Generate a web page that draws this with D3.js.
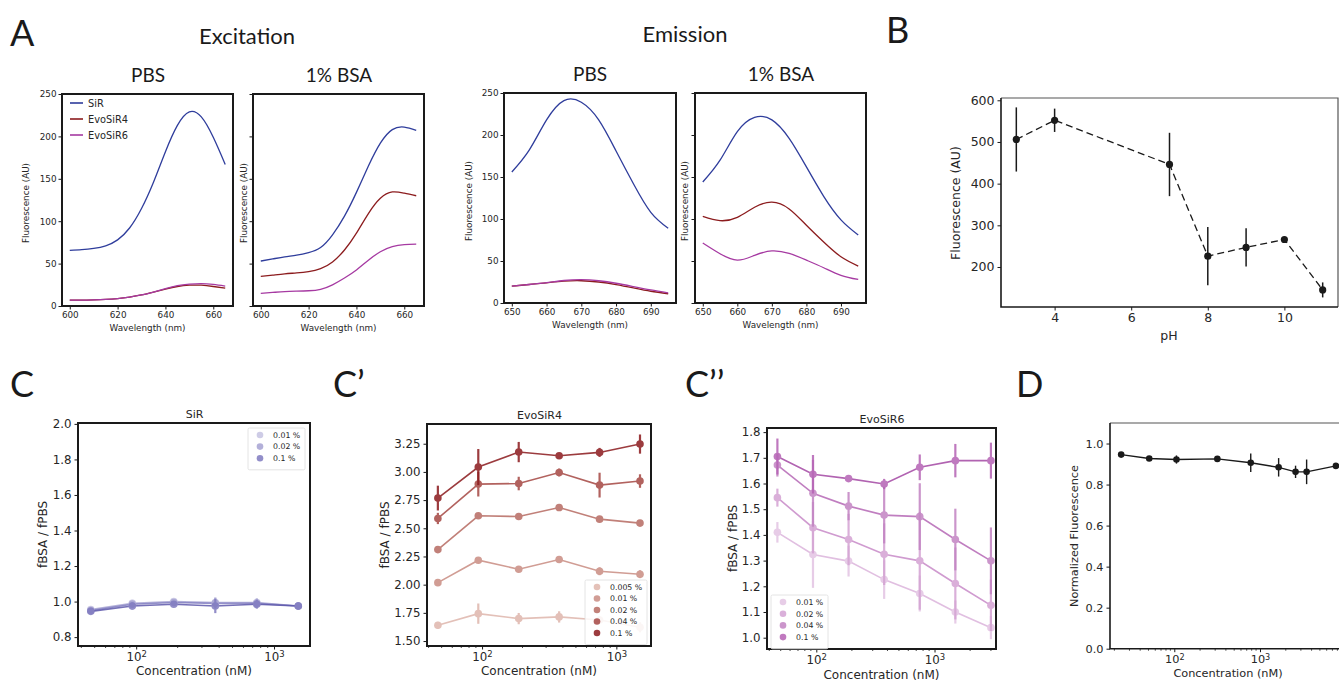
<!DOCTYPE html>
<html>
<head>
<meta charset="utf-8">
<script src="https://cdn.jsdelivr.net/npm/d3@7"></script>
<style>
  body { margin: 0; background: #fff; }
  svg { display: block; }
</style>
</head>
<body>
<svg id="fig" width="1339" height="681"></svg>
<script>
// ---- data ----
const dyeNames = ["SiR", "EvoSiR4", "EvoSiR6"];
const dyeColors = ["#2f3d9c", "#8c1c1e", "#a63aa2"];

// excitation spectra (nm / AU)
const excWl = [600, 605, 610, 615, 620, 625, 630, 635, 640, 645, 650, 655, 660, 665];
const excPbsSiR = [65.7, 66.5, 68, 71, 78, 92, 115, 146, 182, 213, 229, 223, 199, 167];
const excPbsEvo4 = [7, 7, 7.3, 7.8, 8.8, 10.5, 13, 16.5, 20, 23, 24.5, 24.5, 23, 21];
const excPbsEvo6 = [7, 7, 7.3, 7.8, 8.8, 10.5, 13, 16.5, 20.5, 24, 25.8, 26.5, 25.5, 23.5];
const excBsaSiR = [53, 55.5, 58, 60, 63, 69, 84, 106, 134, 165, 192, 208, 211, 207];
const excBsaEvo4 = [35, 36.5, 38, 39, 40.5, 44, 52, 66, 86, 109, 127, 134.5, 133, 130];
const excBsaEvo6 = [15, 16, 17, 17.5, 18, 19.7, 25, 33, 42.5, 54, 64, 70, 72.4, 73];

// emission spectra
const emWl = [650, 655, 660, 665, 670, 675, 680, 685, 690, 695];
const emPbsSiR = [156, 182, 218, 241, 239, 218, 181, 142, 108, 89];
const emPbsEvo4 = [20, 22, 24, 26, 26.5, 25, 22, 18, 14, 11];
const emPbsEvo6 = [20, 22, 24.2, 26.8, 27.8, 26.5, 23.5, 19.5, 15.5, 12];
const emBsaSiR = [144, 170, 204, 221, 218, 196, 162, 127, 99, 81];
const emBsaEvo4 = [103, 98, 102, 114, 120, 112, 92.5, 72.6, 55, 44];
const emBsaEvo6 = [71.5, 58.7, 51, 56.7, 62, 59, 51, 42, 33, 28];

// B: pH dependence
const phValues = [3, 4, 7, 8, 9, 10, 11];
const phMean = [506, 552, 446, 226, 247, 266, 145];
const phErr = [77, 28, 76, 70, 46, 3, 18];

// C: SiR
const concC = [46.875, 93.75, 187.5, 375, 750, 1500];
const sirLabels = ["0.01 %", "0.02 %", "0.1 %"];
const sirColors = ["#c5c3e2", "#a6a2d2", "#7f7abf"];
const sirMean = [
  [0.955, 0.99, 1.0, 0.995, 0.995, 0.975],
  [0.95, 0.985, 0.995, 0.99, 0.99, 0.975],
  [0.945, 0.975, 0.985, 0.975, 0.985, 0.975]
];
const sirErr = [
  [0.02, 0.02, 0.015, 0.03, 0.025, 0.02],
  [0.02, 0.02, 0.015, 0.03, 0.025, 0.02],
  [0.02, 0.02, 0.015, 0.04, 0.025, 0.02]
];

// C': EvoSiR4
const evo4Labels = ["0.005 %", "0.01 %", "0.02 %", "0.04 %", "0.1 %"];
const evo4Colors = ["#dfb6ac", "#c98c82", "#b76b62", "#a54743", "#8b1a1d"];
const evo4Mean = [
  [1.640, 1.743, 1.699, 1.714, 1.687, 1.622],
  [2.018, 2.217, 2.137, 2.223, 2.119, 2.093],
  [2.311, 2.611, 2.604, 2.684, 2.581, 2.546],
  [2.587, 2.892, 2.897, 2.995, 2.883, 2.919],
  [2.768, 3.043, 3.176, 3.143, 3.173, 3.247]
];
const evo4Err = [
  [0.03, 0.09, 0.05, 0.05, 0.03, 0.045],
  [0.01, 0.015, 0.02, 0.015, 0.035, 0.035],
  [0.015, 0.02, 0.015, 0.02, 0.015, 0.015],
  [0.05, 0.11, 0.06, 0.035, 0.11, 0.06],
  [0.11, 0.16, 0.09, 0.02, 0.04, 0.085]
];

// C'': EvoSiR6
const concC2 = [46.875, 93.75, 187.5, 375, 750, 1500, 3000];
const evo6Labels = ["0.01 %", "0.02 %", "0.04 %", "0.1 %"];
const evo6Colors = ["#e3c4e3", "#d4a2d3", "#c283c2", "#b562b4"];
const evo6Mean = [
  [1.410, 1.324, 1.298, 1.226, 1.172, 1.100, 1.039],
  [1.545, 1.428, 1.382, 1.325, 1.299, 1.211, 1.126],
  [1.672, 1.562, 1.512, 1.477, 1.471, 1.382, 1.299],
  [1.705, 1.636, 1.619, 1.598, 1.663, 1.689, 1.689]
];
const evo6Err = [
  [0.04, 0.13, 0.06, 0.075, 0.07, 0.045, 0.045],
  [0.035, 0.1, 0.1, 0.12, 0.19, 0.14, 0.1],
  [0.045, 0.13, 0.055, 0.11, 0.13, 0.12, 0.13],
  [0.07, 0.075, 0.01, 0.02, 0.05, 0.065, 0.07]
];

// D
const concD = [24, 51, 106, 318, 780, 1650, 2600, 3500, 7700];
const dMean = [0.946, 0.927, 0.922, 0.925, 0.906, 0.884, 0.862, 0.862, 0.891];
const dErr = [0.006, 0.006, 0.02, 0.006, 0.045, 0.045, 0.03, 0.06, 0.008];

// ---- drawing ----
const FONT = "DejaVu Sans, sans-serif";
const TFONT = "Lato, 'Open Sans', sans-serif";
const INK = "#262626";
const svg = d3.select("#fig");

function label(txt, x, y, size, opt = {}) {
  const t = svg.append("text")
    .attr("x", x).attr("y", y)
    .attr("font-family", opt.font || FONT)
    .attr("font-size", size)
    .attr("fill", opt.fill || INK)
    .attr("text-anchor", opt.anchor || "middle")
    .text(txt);
  if (opt.rotate) t.attr("transform", `rotate(-90,${x},${y})`);
  return t;
}

function axes(o) {
  const g = svg.append("g");
  const [x0] = o.x.range(), [y1] = o.y.range();
  const xa = g.append("g").attr("transform", `translate(0,${y1})`)
    .call(d3.axisBottom(o.x).tickValues(o.xTicks).tickFormat(o.xFmt)
      .tickSize(o.tick).tickSizeOuter(0).tickPadding(o.pad));
  g.append("g").attr("transform", `translate(${x0},0)`)
    .call(d3.axisLeft(o.y).tickValues(o.yTicks).tickFormat(o.yFmt)
      .tickSize(o.tick).tickSizeOuter(0).tickPadding(o.pad));
  g.selectAll(".domain").remove();
  g.selectAll(".tick text").attr("font-family", FONT).attr("font-size", o.font).attr("fill", INK);
  g.selectAll(".tick line").attr("stroke", "#1a1a1a").attr("stroke-width", 1);
  if (o.log) {
    // superscript powers of ten
    xa.selectAll(".tick text").each(function(d) {
      const t = d3.select(this).text("10");
      t.append("tspan").attr("dy", "-0.45em").attr("font-size", o.font * 0.72)
        .text(Math.round(Math.log10(d)));
    });
    const [lo, hi] = o.x.domain();
    const minors = [];
    for (let e = 0; e < 5; e++) {
      for (let m = 2; m < 10; m++) {
        const v = m * Math.pow(10, e);
        if (v > lo && v < hi) minors.push(v);
      }
    }
    g.append("g").selectAll("line").data(minors).join("line")
      .attr("x1", d => o.x(d)).attr("x2", d => o.x(d))
      .attr("y1", y1).attr("y2", y1 + 2)
      .attr("stroke", "#1a1a1a").attr("stroke-width", 0.8);
  }
  return g;
}

function spines(x, y, full, w) {
  const [x0, x1] = x.range(), [y1, y0] = y.range();
  if (full) {
    svg.append("rect").attr("x", x0).attr("y", y0)
      .attr("width", x1 - x0).attr("height", y1 - y0)
      .attr("fill", "none").attr("stroke", "#1a1a1a").attr("stroke-width", w);
  } else {
    svg.append("path").attr("d", `M${x0},${y0}H${x1}V${y1}`)
      .attr("fill", "none").attr("stroke", "#555").attr("stroke-width", 1.2);
    svg.append("path").attr("d", `M${x0},${y0}V${y1}H${x1}`)
      .attr("fill", "none").attr("stroke", "#1a1a1a").attr("stroke-width", w);
  }
}

// ---- panel A ----
const spectraPanels = [
  { x0: 62, x1: 233, y0: 94, y1: 306, dom: [596.75, 668.25], ticks: [600, 620, 640, 660],
    wl: excWl, series: [excPbsSiR, excPbsEvo4, excPbsEvo6], yLab: true, ylx: 29, legend: true },
  { x0: 253, x1: 424, y0: 94, y1: 306, dom: [596.75, 668.25], ticks: [600, 620, 640, 660],
    wl: excWl, series: [excBsaSiR, excBsaEvo4, excBsaEvo6], yLab: false, ylx: 247 },
  { x0: 504, x1: 676, y0: 93, y1: 303, dom: [647.75, 697.25], ticks: [650, 660, 670, 680, 690],
    wl: emWl, series: [emPbsSiR, emPbsEvo4, emPbsEvo6], yLab: true, ylx: 472 },
  { x0: 695, x1: 866, y0: 93, y1: 303, dom: [647.75, 697.25], ticks: [650, 660, 670, 680, 690],
    wl: emWl, series: [emBsaSiR, emBsaEvo4, emBsaEvo6], yLab: false, ylx: 688 }
];

spectraPanels.forEach(p => {
  const x = d3.scaleLinear().domain(p.dom).range([p.x0, p.x1]);
  const y = d3.scaleLinear().domain([0, 250]).range([p.y1, p.y0]);
  axes({ x, y, xTicks: p.ticks, yTicks: [0, 50, 100, 150, 200, 250],
    xFmt: d => d, yFmt: p.yLab ? (d => d) : (() => ""), tick: 3.5, pad: 2, font: 8.8 });
  const line = d3.line().x(d => x(d[0])).y(d => y(d[1])).curve(d3.curveNatural);
  // evo lines first, SiR on top
  [1, 2, 0].forEach(i => {
    svg.append("path").datum(p.wl.map((w, k) => [w, p.series[i][k]]))
      .attr("d", line).attr("fill", "none")
      .attr("stroke", dyeColors[i]).attr("stroke-width", 1.3);
  });
  spines(x, y, true, 2);
  label("Fluorescence (AU)", p.ylx, (p.y0 + p.y1) / 2 + 3, 8.8, { rotate: true });
  label("Wavelength (nm)", (p.x0 + p.x1) / 2, p.y1 + 25, 8.8);
  if (p.legend) {
    dyeNames.forEach((n, i) => {
      const yy = 103 + i * 16;
      svg.append("line").attr("x1", 70).attr("x2", 83).attr("y1", yy).attr("y2", yy)
        .attr("stroke", dyeColors[i]).attr("stroke-width", 1.6);
      label(n, 88, yy + 3.5, 9.8, { anchor: "start" });
    });
  }
});

label("A", 10, 46, 36, { font: TFONT, anchor: "start", fill: "#1a1a1a" });
label("Excitation", 247, 44, 22, { font: TFONT, fill: "#1a1a1a" });
label("Emission", 685, 42, 22, { font: TFONT, fill: "#1a1a1a" });
label("PBS", 148, 82, 19, { font: TFONT, fill: "#1a1a1a" });
label("1% BSA", 339, 82, 19, { font: TFONT, fill: "#1a1a1a" });
label("PBS", 590, 81, 19, { font: TFONT, fill: "#1a1a1a" });
label("1% BSA", 781, 81, 19, { font: TFONT, fill: "#1a1a1a" });

// ---- panel B ----
{
  const x = d3.scaleLinear().domain([2.6, 11.4]).range([1001, 1338]);
  const y = d3.scaleLinear().domain([104, 605.5]).range([307, 98]);
  axes({ x, y, xTicks: [4, 6, 8, 10], yTicks: [200, 300, 400, 500, 600],
    xFmt: d => d, yFmt: d => d, tick: 3.5, pad: 3, font: 12.5 });
  const pts = phValues.map((p, i) => ({ p, m: phMean[i], e: phErr[i] }));
  svg.append("path").datum(pts)
    .attr("d", d3.line().x(d => x(d.p)).y(d => y(d.m)))
    .attr("fill", "none").attr("stroke", "#1a1a1a").attr("stroke-width", 1.3)
    .attr("stroke-dasharray", "7,4");
  svg.append("g").selectAll("line").data(pts).join("line")
    .attr("x1", d => x(d.p)).attr("x2", d => x(d.p))
    .attr("y1", d => y(d.m - d.e)).attr("y2", d => y(d.m + d.e))
    .attr("stroke", "#1a1a1a").attr("stroke-width", 1.5);
  svg.append("g").selectAll("circle").data(pts).join("circle")
    .attr("cx", d => x(d.p)).attr("cy", d => y(d.m)).attr("r", 3.6).attr("fill", "#1a1a1a");
  spines(x, y, false, 1.6);
  label("pH", 1169, 340, 12.5);
  label("Fluorescence (AU)", 960, 203, 12.5, { rotate: true });
  label("B", 886, 43, 36, { font: TFONT, anchor: "start", fill: "#1a1a1a" });
}

// ---- panels C, C', C'' ----
function concPanel(p) {
  const x = d3.scaleLog().domain(p.xdom).range([p.x0, p.x1]);
  const y = d3.scaleLinear().domain(p.ydom).range([p.y1, p.y0]);
  axes({ x, y, xTicks: [100, 1000], yTicks: p.yTicks, xFmt: d => d, yFmt: p.yFmt,
    tick: 3.5, pad: 3, font: 11.8, log: true });
  p.mean.forEach((m, i) => {
    const pts = p.conc.map((c, k) => ({ c, m: m[k], e: p.err[i][k] }));
    const g = svg.append("g").attr("opacity", 0.85);
    g.append("path").datum(pts)
      .attr("d", d3.line().x(d => x(d.c)).y(d => y(d.m)))
      .attr("fill", "none").attr("stroke", p.lineColors ? p.lineColors[i] : p.colors[i]).attr("stroke-width", 1.6);
    g.selectAll("line").data(pts).join("line")
      .attr("x1", d => x(d.c)).attr("x2", d => x(d.c))
      .attr("y1", d => y(d.m - d.e)).attr("y2", d => y(d.m + d.e))
      .attr("stroke", p.colors[i]).attr("stroke-width", 2.2);
    g.selectAll("circle").data(pts).join("circle")
      .attr("cx", d => x(d.c)).attr("cy", d => y(d.m)).attr("r", 3.8).attr("fill", p.colors[i]);
  });
  spines(x, y, true, 2);
  label(p.title, (p.x0 + p.x1) / 2 + 0.5, p.y0 - 5, 11);
  label("Concentration (nM)", (p.x0 + p.x1) / 2, p.xly, 12);
  label("fBSA / fPBS", p.ylx, (p.y0 + p.y1) / 2, 12, { rotate: true });
  // legend
  const L = p.leg;
  svg.append("rect").attr("x", L.x).attr("y", L.y).attr("width", L.w)
    .attr("height", p.labels.length * L.dy + 7).attr("rx", 1.5)
    .attr("fill", "#fff").attr("fill-opacity", 0.85).attr("stroke", "#ddd").attr("stroke-width", 0.8);
  p.labels.forEach((lab, i) => {
    const yy = L.y + 7 + i * L.dy;
    svg.append("circle").attr("cx", L.x + 12).attr("cy", yy).attr("r", 3.3)
      .attr("fill", p.colors[i]).attr("opacity", 0.85);
    label(lab, L.x + 25, yy + 2.8, 7.8, { anchor: "start" });
  });
  label(p.letter, p.lx, 397, 36, { font: TFONT, anchor: "start", fill: "#1a1a1a" });
}

concPanel({
  x0: 78, x1: 310, y0: 423, y1: 646,
  xdom: [Math.pow(10, 1.578), Math.pow(10, 3.261)], ydom: [0.75, 2.005],
  yTicks: [0.8, 1.0, 1.2, 1.4, 1.6, 1.8, 2.0], yFmt: d3.format(".1f"),
  conc: concC, mean: sirMean, err: sirErr, colors: sirColors,
  lineColors: ["#a9a6d4", "#8581c3", "#5d58ab"], labels: sirLabels,
  title: "SiR", xly: 675, ylx: 47, letter: "C", lx: 10,
  leg: { x: 248, y: 428, w: 57, dy: 11.6 }
});

concPanel({
  x0: 427, x1: 651, y0: 424, y1: 646,
  xdom: [Math.pow(10, 1.59), Math.pow(10, 3.258)], ydom: [1.456, 3.425],
  yTicks: [1.5, 1.75, 2.0, 2.25, 2.5, 2.75, 3.0, 3.25], yFmt: d3.format(".2f"),
  conc: concC, mean: evo4Mean, err: evo4Err, colors: evo4Colors, labels: evo4Labels,
  title: "EvoSiR4", xly: 675, ylx: 389, letter: "C\u2019", lx: 333,
  leg: { x: 585, y: 580, w: 62, dy: 11.5 }
});

concPanel({
  x0: 767, x1: 996, y0: 428, y1: 649,
  xdom: [Math.pow(10, 1.583), Math.pow(10, 3.52)], ydom: [0.956, 1.816],
  yTicks: [1.0, 1.1, 1.2, 1.3, 1.4, 1.5, 1.6, 1.7, 1.8], yFmt: d3.format(".1f"),
  conc: concC2, mean: evo6Mean, err: evo6Err, colors: evo6Colors,
  lineColors: ["#dcb4dc", "#c88ac8", "#b668b6", "#a448a4"], labels: evo6Labels,
  title: "EvoSiR6", xly: 679, ylx: 737, letter: "C\u2019\u2019", lx: 685,
  leg: { x: 771, y: 595, w: 57, dy: 11.7 }
});

// ---- panel D ----
{
  const x = d3.scaleLog().domain([Math.pow(10, 1.25), Math.pow(10, 4.0)]).range([1110, 1345.7]);
  const y = d3.scaleLinear().domain([0, 1.1]).range([648.7, 423]);
  axes({ x, y, xTicks: [100, 1000], yTicks: [0, 0.2, 0.4, 0.6, 0.8, 1.0],
    xFmt: d => d, yFmt: d3.format(".1f"), tick: 3.5, pad: 3, font: 11.3, log: true });
  const pts = concD.map((c, i) => ({ c, m: dMean[i], e: dErr[i] }));
  svg.append("path").datum(pts)
    .attr("d", d3.line().x(d => x(d.c)).y(d => y(d.m)))
    .attr("fill", "none").attr("stroke", "#1a1a1a").attr("stroke-width", 1.4);
  svg.append("g").selectAll("line").data(pts).join("line")
    .attr("x1", d => x(d.c)).attr("x2", d => x(d.c))
    .attr("y1", d => y(d.m - d.e)).attr("y2", d => y(d.m + d.e))
    .attr("stroke", "#1a1a1a").attr("stroke-width", 1.4);
  svg.append("g").selectAll("circle").data(pts).join("circle")
    .attr("cx", d => x(d.c)).attr("cy", d => y(d.m)).attr("r", 3.3).attr("fill", "#1a1a1a");
  spines(x, y, false, 1.6);
  label("Concentration (nM)", 1228, 677, 11.3);
  label("Normalized Fluorescence", 1078, 536, 11.3, { rotate: true });
  label("D", 1016, 397, 36, { font: TFONT, anchor: "start", fill: "#1a1a1a" });
}
</script>
</body>
</html>
